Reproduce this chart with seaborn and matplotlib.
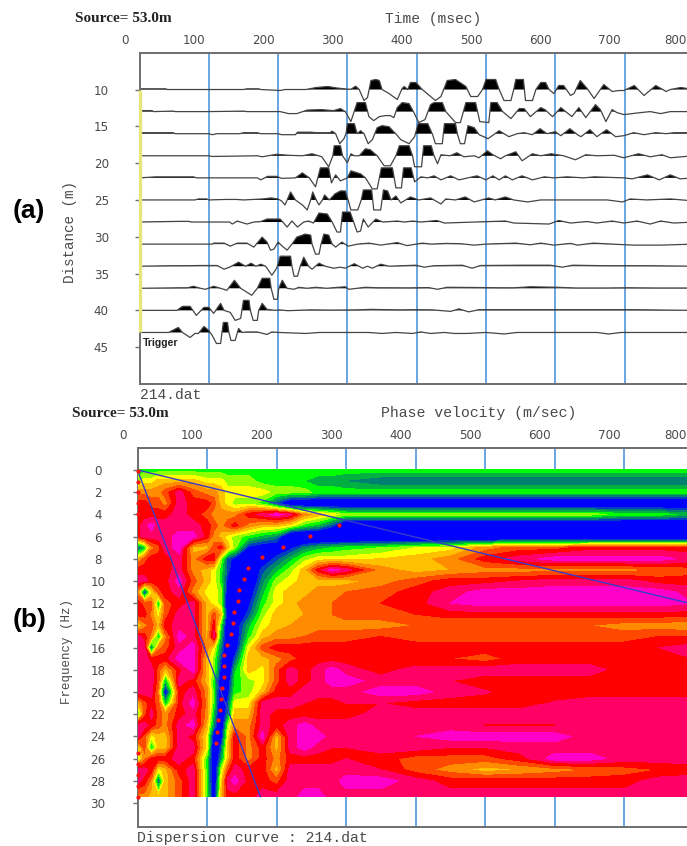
import numpy as np
import pandas as pd
import matplotlib
matplotlib.use('Agg')
import matplotlib.pyplot as plt
from matplotlib.transforms import ScaledTranslation
import seaborn as sns

W, H = 687, 846
PX_PER_M = 7.36

x_ticks = [0, 100, 200, 300, 400, 500, 600, 700, 800]
dist_ticks = [10, 15, 20, 25, 30, 35, 40, 45]
freq_ticks = list(range(0, 31, 2))
grid_ticks = [100, 200, 300, 400, 500, 600, 700]

# seismic traces: time (msec) and amplitude (px, clipped) for each receiver
t10 = [0, 38, 40, 150, 155, 172, 175, 203, 210, 240, 255, 272, 285, 300, 305, 312, 317, 324, 329, 334, 341, 346, 350, 360, 372, 379, 382, 387, 391, 399, 408, 427, 435, 444, 456, 471, 478, 488, 495, 500, 514, 519, 526, 536, 540, 543, 554, 557, 567, 572, 579, 586, 591, 598, 605, 612, 622, 627, 636, 646, 656, 670, 682, 692, 699, 714, 728, 745, 760, 766, 781, 800]
a10 = [0.7, 0.7, 0, 0, 0.7, 0.7, 0, -1, 0, 0, 2, 3, 1.5, 0.4, 0.3, 3.3, 0, -11, -8, 9, 10, 9, 0, -4, -10, 1, 3, 0, 7, 7, 0, -11, -7, 9, 10, 3, -7, -7, 0, 10, 10, 0, -11, -11, 0, 10, 10, -11, -11, 0, 7, 7, 0, -4, 4, 4, -6, -4, 9, 1, -9, 5, -2, -1, -1, 4, -6, 4, -2, 0, 2, 0]
t13 = [0, 18, 20, 48, 52, 100, 150, 155, 203, 215, 227, 242, 262, 280, 290, 297, 305, 314, 326, 331, 338, 346, 355, 362, 367, 372, 379, 389, 396, 403, 412, 420, 425, 437, 442, 456, 463, 471, 485, 491, 504, 507, 516, 524, 536, 548, 555, 564, 579, 585, 596, 608, 615, 624, 634, 644, 658, 665, 673, 682, 689, 699, 723, 737, 752, 766, 800]
a13 = [1, 1, 0, 0.5, 0, 0, 0.5, 0, 0, -2, -2, 1.5, 2, 1, 3, 0, -10, 9, 9, -5, -9, -5, -4, -4, -6, 4, 9, 8, -1, -11, -8, 7, 9, 9, 0, -11, -11, 9, 9, -10, -11, 9, 9, 0, -7, 3, 3, -5, 4, 2, -5, 4, 0, -5, 4, -6, 7, 2, -10, 2, -1, -3, -1, 0, -2, 0, 0]
t16 = [0, 2, 48, 52, 100, 105, 112, 145, 150, 170, 175, 200, 205, 225, 228, 247, 256, 275, 278, 283, 289, 295, 298, 300, 310, 314, 319, 324, 330, 336, 343, 350, 360, 371, 377, 389, 397, 402, 416, 423, 427, 437, 440, 456, 459, 463, 469, 474, 483, 490, 500, 503, 519, 526, 533, 545, 555, 567, 578, 588, 600, 608, 621, 632, 637, 650, 660, 674, 687, 699, 713, 728, 745, 760, 772, 800]
a16 = [0, 1, 1, 0, 0, -1, 0, 0, 1, 1, 0, 0, -1, -1, 1.5, 1.5, 1, 1, 2.5, 0, -10, -5, 0, 10, 10, 0, 3, 0, -10, -6, 6, 8, 7, -1, -6, -10, -3, 10, 10, -1, -10, -10, 10, 10, -1, -10, -10, 8, 6, -1, -4, -5, 3, 0, -3, 0, 1, -1, 5, 0, 2, -2, 5, -1, -3, 4, -3, 4, -3, -2, 1, -1, 1, 0, 1, 1]
t19 = [0, 100, 105, 170, 177, 198, 215, 235, 249, 263, 273, 279, 281, 290, 293, 300, 305, 310, 317, 326, 333, 343, 353, 362, 370, 375, 389, 394, 397, 407, 410, 421, 425, 430, 435, 448, 458, 468, 483, 490, 502, 510, 521, 528, 543, 552, 567, 579, 594, 612, 629, 644, 660, 685, 699, 720, 737, 754, 766, 800]
a19 = [0, 0, -0.7, 0, -1, 1.5, 0.5, 0, 2, -1, -11, 0, 10, 10, 0, -7, 2, 0, 0, 7, 6, 0, -10, -10, 0, 10, 10, 0, -11, -11, 10, 10, 0, -8, 1, 0, 3, -1, 0, -2, 5, 1, -3, 0, 4, -5, 2, 0, 2, 0, -4, 1, 0, 0.5, -2, 2, -1, 1, -2, 0]
t22 = [0, 23, 78, 82, 170, 175, 185, 198, 205, 225, 235, 245, 254, 261, 273, 277, 283, 290, 300, 305, 319, 326, 336, 343, 349, 365, 370, 378, 381, 392, 397, 406, 416, 425, 435, 449, 461, 487, 500, 510, 519, 528, 538, 552, 567, 584, 598, 617, 641, 656, 699, 711, 733, 750, 766, 780, 800]
a22 = [0, 1, 1, 0, 0, -2, 1.5, 1.5, -0.5, 0, 5, 0, -9, 10, 10, -5, 3, -3, 0, 7, 4, 0, -11, -11, 10, 10, -10, -10, 10, 10, -4, 1, 0, 2, -2, 2, -2, 2, -2, 2, -2, 2, -2, 2, -2, 1, 0, 1, 0, 1, 0, -1, 3, -2, 3, -1, 0]
t25 = [0, 80, 85, 97, 100, 124, 140, 150, 178, 190, 200, 205, 210, 218, 225, 235, 242, 247, 250, 255, 259, 264, 267, 274, 282, 290, 297, 301, 305, 315, 320, 323, 335, 338, 348, 352, 358, 363, 370, 377, 391, 403, 420, 435, 442, 456, 470, 483, 504, 513, 528, 540, 560, 579, 627, 675, 697, 708, 732, 766, 800]
a25 = [0, 0, 1, 1, 0, 0.5, 0.5, 0, 1, 2, 1, -1, -5, 8, 0, -5, -10, 0, 8, 0, -5, 0, 5, 0, 6, 9, 9, 0, -10, -10, 0, 10, 10, -10, -10, 10, 9, 0, 4, -3, 3, 0, 2, -4, 1, 0, 3, -2, 2, 0, 3, 0, -2, 0, 0, 0, -2, 1, 0, 1, -1]
t28 = [0, 59, 71, 75, 130, 134, 141, 155, 165, 175, 184, 203, 213, 220, 228, 237, 244, 251, 259, 271, 278, 285, 290, 293, 304, 309, 314, 319, 323, 330, 341, 351, 372, 382, 394, 406, 429, 440, 528, 540, 591, 605, 622, 646, 660, 682, 699, 718, 737, 752, 771, 800]
a28 = [0, 0.7, 0.7, 0, 0, -2, 1, -2, 0, 0.5, 3, 3, -5, 1, -5, 0, 1, -1, 9, 8, 0, -10, -10, 10, 10, 0, -10, -9, 3, -5, 3, 0, 1, 0, 1, 0, 1.5, -1, 1, -1, -2, 1.5, -1, 0.5, -1, 1, -1, 1, -2, 1, -1, 0]
t31 = [0, 105, 107, 122, 131, 141, 155, 165, 177, 184, 189, 194, 200, 206, 213, 220, 227, 239, 247, 249, 254, 259, 262, 266, 273, 278, 283, 292, 301, 315, 331, 348, 372, 386, 408, 421, 442, 463, 483, 500, 543, 564, 579, 598, 622, 632, 655, 682, 713, 752, 800]
a31 = [0, 0, 1, 1, -2, 1, 1, -3, 7, 2, -6, -5, 2, -2, -6, 0, 7, 10, 9, 0, -10, -10, 0, 10, 9, 0, -3, 2, -2, 0, 1, -1, 1.5, -1.5, 1, 0, 0.7, 0.4, -1, 0, 1, -0.7, 1, -1, 0.7, -1, 1, 0, -1, -1, 0]
t34 = [0, 50, 70, 88, 112, 122, 130, 143, 153, 161, 168, 175, 182, 191, 198, 203, 218, 220, 223, 228, 232, 237, 244, 249, 259, 268, 280, 290, 297, 310, 322, 329, 336, 348, 360, 399, 411, 425, 442, 466, 480, 492, 550, 593, 610, 625, 672, 732, 800]
a34 = [0, 0.5, 0.5, 0.7, 0.7, -3, -1, 4, 0, 3, 0, 2, 0, -9, -2, 10, 10, 0, -10, -10, 0, 9, 0, -3, 3, 0, -2, -1, -2, 2.5, -2, 0, -2, 2, 0, 1, -1, 0.5, 0.7, 1, -2, 0.7, 1, 1, -1, 1, 0.5, 0.5, 0]
t37 = [0, 59, 69, 78, 88, 95, 107, 117, 126, 137, 146, 162, 170, 177, 188, 190, 194, 199, 201, 206, 213, 223, 230, 242, 254, 270, 287, 297, 302, 326, 345, 363, 387, 417, 430, 444, 485, 521, 540, 564, 603, 630, 672, 705, 724, 747, 800]
a37 = [0, 0.5, 0.5, 2, 0, -1, 2, 0, -2, 8, 0, -7, 0, 10, 10, 0, -11, -11, 0, 8, 0, -1, 1, 0, 1, 0, 1, 1.5, -1, 1, 0.5, 0.5, 0.4, 0.7, -1, 1, 0.8, 0.5, 0.5, 1.5, 1, 0.3, 0.3, 0.5, 0.4, 0.3, 0.3]
t40 = [0, 54, 62, 73, 77, 82, 93, 100, 107, 117, 122, 131, 138, 146, 150, 158, 160, 164, 170, 172, 177, 184, 196, 201, 214, 247, 280, 314, 334, 376, 401, 423, 449, 461, 475, 490, 569, 595, 711, 800]
a40 = [0, 0, 4, 4, 0, -5, 3, 3, -3, 7, 0, -2, -10, -8, 10, 10, 0, -10, -10, 0, 7, 1, 0, 0.5, -0.3, 0.5, 0.3, 0.5, 1, 0.5, 0.7, 0.5, -1, 1.5, -1.5, 0.7, 0.7, 0.7, 0.7, 0]
t43 = [0, 42, 56, 62, 73, 80, 85, 93, 100, 105, 111, 117, 119, 121, 127, 129, 132, 138, 143, 148, 155, 170, 184, 191, 201, 240, 260, 330, 350, 370, 394, 406, 420, 440, 454, 472, 500, 526, 545, 660, 677, 695, 800]
a43 = [0, 0, 5, 0, -5, -1, -1, 6, 2, -3, -11, -11, 0, 10, 10, 0, -8, -8, 4, 0, 0.5, 0.5, -2, 0.5, 0, -1, 0, 0, -1, 0, -1, 0.5, -1, 0, -1, -1, 0, -1.5, 0, 0, -1.5, 0, 0]

trace_dist = [10, 13, 16, 19, 22, 25, 28, 31, 34, 37, 40, 43]
trace_times = [t10, t13, t16, t19, t22, t25, t28, t31, t34, t37, t40, t43]
trace_amps = [a10, a13, a16, a19, a22, a25, a28, a31, a34, a37, a40, a43]

# dispersion image: phase velocity columns, frequency rows, band level 0-12
vel = [0, 10, 20, 30, 40, 60, 80, 100, 110, 120, 130, 140, 160, 180, 200, 220, 240, 260, 280, 300, 350, 400, 450, 500, 550, 600, 650, 700, 750, 800]
freq = [0, 1, 2, 3, 4, 5, 6, 7, 8, 9, 10, 11, 12, 13, 14, 15, 16, 17, 18, 19, 20, 21, 22, 23, 24, 25, 26, 27, 28, 29.45]
f00 = [4, 4, 4, 4, 4, 4, 4, 4, 4, 4, 4, 4, 4, 4, 4, 4, 4, 4, 4, 4, 4, 4, 4, 4, 4, 4, 4, 4, 4, 4]
f01 = [5, 6, 6, 7, 7, 7, 7, 6, 6, 6, 5, 5, 5, 4, 4, 4, 3.5, 3, 3, 2.4, 1.6, 1.6, 1.6, 1.6, 1.6, 1.6, 1.6, 1.6, 1.6, 1.6]
f02 = [8, 8, 8, 8, 9, 11, 9, 8, 8, 7, 6, 6, 6, 6, 5, 5, 5, 4, 4, 4, 4, 4, 4, 4, 4, 4, 4, 4, 4, 4]
f03 = [10, 10, 9, 9, 8, 11, 10, 10, 9, 7, 6, 5, 5, 4, 1, -2, -2, -2, -2, -2, -2, -2, -2, -2, -2, -2, -2, -2, -2, -2]
f04 = [10, 10, 10, 10, 10, 11, 10, 9, 8, 8, 8, 8, 10, 11, 12, 11, 8, 7, 6, 5, 5, 5, 5, 5, 5, 5, 5, 4, 4, 3]
f05 = [10, 11, 12, 11, 11, 11, 11, 10, 9, 8, 9, 10, 8, 7, 7, 6, 4, 3, 1, -3, -3, -3, -3, -3, -3, -3, -3, -3, -3, -3]
f06 = [10, 11, 11, 11, 11, 12, 12, 10, 8, 7, 6, 5, 4, 3, 2, -3, -3, -3, -3, -3, -3, -3, -3, -3, -3, -3, -3, -3, -3, -3]
f07 = [1, 3, 8, 9, 11, 12, 7, 7, 9, 10, 7, 5, 0, -1, -1, 0, 2, 3, 3.5, 4, 4.5, 5.5, 6, 8, 9, 9, 10, 10, 10, 10]
f08 = [7, 9, 10, 10, 10, 11, 8, 10, 10, 5, 1, 0, -1, -1, 1, 3, 5, 6, 6, 6, 6.5, 7, 8, 10, 11, 12, 12, 12, 12, 11]
f09 = [10, 10, 10, 10, 10, 11, 8, 7, 6, 4, 1, -1, -2, 1, 3, 5, 7, 10, 12, 11, 8, 7, 7.5, 8, 8, 8, 8, 8, 8.5, 9]
f10 = [11, 11, 10, 10, 10, 12, 9, 7, 6, 4, 0, -2, -2, 2, 5, 6, 7, 7, 7, 7, 8, 9, 10, 10, 10.5, 11, 11, 11, 10, 10]
f11 = [8, 0, 6, 9, 10, 11, 8, 6, 6, 5, -1, -2, -1, 3, 6, 7, 7, 8, 8, 8.5, 9, 10, 11, 12, 12, 12, 12, 12, 12, 11]
f12 = [10, 9, 9, 3, 9, 10, 11, 7, 6, 5, -2, -2, 0, 4, 6, 7, 8, 8, 8.5, 9, 9.5, 10, 11.5, 12, 12, 12, 12, 12, 12, 11.5]
f13 = [10, 10, 8, 6, 9, 11, 11, 7, 9, 7, -1, -2, 1, 5, 7, 7, 7.5, 8, 8.5, 9, 9, 9.5, 10, 10, 10, 10, 10, 10, 10, 10]
f14 = [6, 8, 9, 7, 10, 11, 11, 7, 10, 4, -2, -1, 3, 6, 7, 7.5, 8, 8, 8, 8, 8, 8.5, 8.5, 8.5, 8.5, 8.5, 8.5, 8, 8, 7.5]
f15 = [11, 10, 8, 3, 8, 12, 11, 7, 11, 3, -2, -1, 4, 7, 8, 8, 8.5, 9, 9, 9, 9.5, 9, 9, 9, 9, 9, 9, 9, 9.5, 9.5]
f16 = [11, 11, 1, 8, 9, 11, 12, 8, 6, 2, -2, -1, 6, 9, 10, 10, 10, 10, 10, 10, 10, 10, 10, 10, 10, 10, 10, 10, 10.5, 11]
f17 = [11, 11, 10, 10, 10, 12, 12, 7, 5, 1, -2, 1, 7, 7, 8, 9, 10, 10, 10, 10, 10, 9.5, 9.5, 9, 10, 10, 10, 10, 10, 10.5]
f18 = [11, 11, 11, 9, 7, 10, 12, 7, 5, 0, -2, 3, 7, 6, 9, 11, 10, 11, 12, 11, 10, 11, 11, 11, 11, 11, 11, 10, 10, 10]
f19 = [11, 11, 11, 9, 3, 11, 10, 7, 4, -1, -1, 4, 5, 6, 9, 11, 10, 11, 12, 12, 11, 11, 10.5, 10, 10, 10, 10, 10, 10, 10]
f20 = [11, 11, 11, 8, -1, 10, 11, 8, 4, -2, 0, 4, 5, 7, 10, 10, 11, 11, 11, 11, 12, 12, 11, 10.6, 10, 10, 10, 10, 10, 10]
f21 = [7, 9, 10, 9, 3, 10, 12, 8, 4, -2, 1, 6, 6, 11, 11, 11, 10.5, 10, 10, 10.5, 10.5, 10, 10, 10, 10, 10.6, 11, 11, 11, 11]
f22 = [3, 9, 11, 9, 8, 10, 11, 8, 3, -2, 2, 7, 7, 11, 10, 10, 10, 10, 10, 10, 11, 11, 11, 11, 11, 11, 11, 11, 11, 11]
f23 = [11, 11, 10, 9, 8, 11, 12, 7, 2, -2, 5, 8, 8, 11, 10, 11, 12, 11, 11, 11, 11, 11, 11, 10.4, 10.4, 10.4, 11, 11, 11, 11]
f24 = [11, 9, 6, 7, 7, 11, 10, 6, -1, -1, 6, 10, 8, 12, 7, 11, 12, 12, 11, 11, 11, 11.5, 12, 12, 12, 12, 11, 11, 11, 11]
f25 = [6, 9, 3, 7, 7, 11, 11, 6, -2, 1, 7, 10, 8, 10, 7, 11, 12, 11, 10.5, 10.5, 11, 11, 10.5, 10.5, 11, 11, 11, 11, 11, 11]
f26 = [5, 8, 10, 10, 10, 11, 10, 4, -2, 2, 7, 10, 8, 10, 8, 10, 10, 10, 10, 10.5, 10, 9, 9, 9, 10, 12, 12, 11, 11, 11]
f27 = [11, 11, 10, 6, 7, 10, 11, 4, -2, 5, 9, 11, 10, 10, 7, 11, 11, 11, 11, 11, 10.5, 9, 8, 7, 7.5, 8, 8.5, 9, 9.5, 10]
f28 = [11, 10, 8, 1, 7, 9, 11, 4, -2, 6, 11, 12, 10, 10, 9, 11, 11, 11, 11, 12, 12, 11, 10, 10, 10, 10, 10, 10, 11, 11]
f29 = [8, 8, 7, 7, 7, 9, 11, 4, -1, 7, 10, 10, 10, 11, 11, 11, 12, 12, 11, 11, 11, 11, 11, 11, 11, 11, 11, 11, 11, 11]
band_rows = [f00, f01, f02, f03, f04, f05, f06, f07, f08, f09, f10, f11, f12, f13, f14, f15, f16, f17, f18, f19, f20, f21, f22, f23, f24, f25, f26, f27, f28, f29]

band_colors = ['#0000FF', '#0040C0', '#008070', '#00B040', '#00FF00', '#90FF00', '#FFFF00', '#FFC000',
               '#FF8C00', '#FF4800', '#FF0000', '#FF0064', '#FF00C8']

# picked dispersion curve (red dots)
pick_vel = [0, 0, 0, 0, 0, 290, 248, 209, 179, 159, 153, 146, 145, 139, 138, 134, 129, 124, 125, 124, 122, 120, 119, 116, 115, 113, 0, 0, 0, 0, 0]
pick_freq = [0.06, 1.05, 2.0, 2.95, 3.93, 4.93, 5.92, 6.91, 7.87, 8.86, 9.85, 10.84, 11.83, 12.77, 13.81, 14.77, 15.74, 16.69, 17.68, 18.67, 19.64, 20.63, 21.62, 22.52, 23.6, 24.6, 25.52, 26.51, 27.48, 28.47, 29.43]
limit_vel = [0, 800, 0, 177]
limit_freq = [0, 12.1, 0, 29.45]

sns.set_theme(style='white')
plt.rcParams['font.family'] = ['DejaVu Sans']
MONO = 'Liberation Mono'
TXT = '#4a4a4a'
SPINE = '#6e6e6e'
GRID = '#5f9fdf'


def add_panel(fig, left, top, right, bottom):
    return fig.add_axes([left / W, 1 - bottom / H, (right - left) / W, (bottom - top) / H])


def style_axes(fig, ax, yticks, ypad):
    ax.set_xlim(0, 800)
    ax.xaxis.tick_top()
    ax.set_xticks(x_ticks)
    ax.set_yticks(yticks)
    ax.tick_params(axis='x', length=0, pad=4, labelsize=8.6, labelcolor=TXT)
    ax.tick_params(axis='y', left=True, length=3.5, width=1, color=SPINE, pad=ypad, labelsize=8.6, labelcolor=TXT)
    offset = ScaledTranslation(-0.15, 0, fig.dpi_scale_trans)
    for lab in ax.get_xticklabels():
        lab.set_transform(lab.get_transform() + offset)
    for lab in ax.get_yticklabels():
        lab.set_ha('center')
    last = ax.get_xticklabels()[-1]
    last.set_transform(last.get_transform() + ScaledTranslation(-0.035, 0, fig.dpi_scale_trans))
    ax.spines['right'].set_visible(False)
    for side in ['top', 'left', 'bottom']:
        ax.spines[side].set_color(SPINE)
        ax.spines[side].set_linewidth(1.4)
    ax.vlines(grid_ticks, *ax.get_ylim(), color=GRID, lw=1.3, zorder=0.5)


def fig_text(fig, x, y, s, **kw):
    fig.text(x / W, 1 - y / H, s, va='center', **kw)


fig = plt.figure(figsize=(W / 100, H / 100), dpi=100, facecolor='white')

# (a) shot gather
ax_a = add_panel(fig, 139.5, 53, 693.9, 384)
ax_a.set_ylim(50.0, 5.04)
style_axes(fig, ax_a, dist_ticks, 24)
ax_a.plot([0, 0], [10, 43], color='#e6e67a', lw=2.4, zorder=3, solid_capstyle='butt', clip_on=False)

for d, t, a in zip(trace_dist, trace_times, trace_amps):
    t = np.array(t)
    y = d - np.array(a) / PX_PER_M
    df = pd.DataFrame({'time': t, 'dist': y})
    ax_a.fill_between(t, y, d, where=y < d, interpolate=True, color='black', lw=0, zorder=2)
    sns.lineplot(data=df, x='time', y='dist', sort=False, estimator=None, color='#444444', lw=0.9, ax=ax_a, zorder=2.5)
ax_a.set_xlabel('')
ax_a.set_ylabel('')

ax_a.text(5, 44.4, 'Trigger', family='Liberation Sans', weight='bold', fontsize=7.6, color='#222222', va='center')

# (b) dispersion image
ax_b = add_panel(fig, 137.5, 448, 693.5, 827)
ax_b.set_ylim(32.16, -1.98)
style_axes(fig, ax_b, freq_ticks, 25)
levels = np.arange(0.5, 12)
ax_b.contourf(vel, freq, np.array(band_rows), levels=levels, colors=band_colors, extend='both', zorder=3)

sns.lineplot(x=limit_vel[:2], y=limit_freq[:2], color='#3a3ac8', lw=1.0, ax=ax_b, zorder=4, sort=False, estimator=None)
sns.lineplot(x=limit_vel[2:], y=limit_freq[2:], color='#3a3ac8', lw=1.0, ax=ax_b, zorder=4, sort=False, estimator=None)
sns.scatterplot(x=pick_vel, y=pick_freq, color='#ff1010', s=9, linewidth=0, ax=ax_b, zorder=5, clip_on=False)
ax_b.set_xlabel('')
ax_b.set_ylabel('')

# labels placed by hand like the original screenshot
fig_text(fig, 75, 18, 'Source= 53.0m', family='Liberation Serif', weight='bold', fontsize=11, color='#222222')
fig_text(fig, 72, 413, 'Source= 53.0m', family='Liberation Serif', weight='bold', fontsize=11, color='#222222')
fig_text(fig, 385, 19, 'Time (msec)', family=MONO, fontsize=10.5, color=TXT)
fig_text(fig, 381, 413, 'Phase velocity (m/sec)', family=MONO, fontsize=10.75, color=TXT)
fig_text(fig, 140, 395, '214.dat', family=MONO, fontsize=10.5, color=TXT)
fig_text(fig, 137, 838, 'Dispersion curve : 214.dat', family=MONO, fontsize=10.75, color=TXT)
fig_text(fig, 70, 232, 'Distance (m)', family=MONO, fontsize=10.3, color=TXT, rotation=90, ha='center')
fig_text(fig, 67, 651, 'Frequency (Hz)', family=MONO, fontsize=9, color=TXT, rotation=90, ha='center')
fig_text(fig, 13, 211, '(a)', family='Liberation Sans', weight='bold', fontsize=19, color='black')
fig_text(fig, 13, 620, '(b)', family='Liberation Sans', weight='bold', fontsize=19, color='black')

fig.savefig('out.png', dpi=100)
